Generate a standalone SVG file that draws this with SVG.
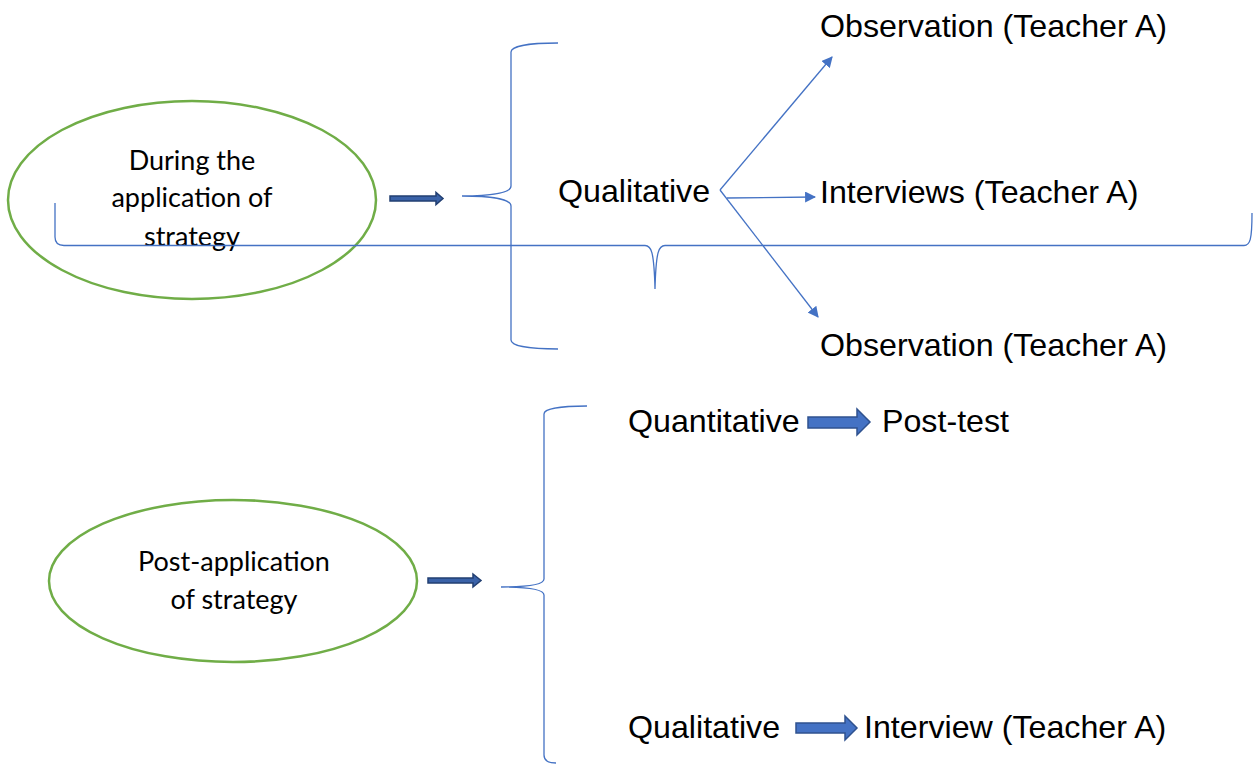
<svg xmlns="http://www.w3.org/2000/svg" width="1254" height="765" viewBox="0 0 1254 765">
  <style>
    .oval { fill: none; stroke: #70AD47; stroke-width: 2.5; }
    .brace { fill: none; stroke: #4472C4; stroke-width: 1.3; }
    .link { fill: none; stroke: #4472C4; stroke-width: 1.3; }
    .block { fill: #4472C4; stroke: #2F528F; stroke-width: 1.5; stroke-linejoin: miter; }
    .block-small { fill: #3A62A8; stroke: #223F72; stroke-width: 1.5; stroke-linejoin: miter; }
    .oval-text { font-family: Lato, "Liberation Sans", sans-serif; font-size: 27px; fill: #000; text-anchor: middle; }
    .label { font-family: "Liberation Sans", Arial, sans-serif; font-size: 32.2px; fill: #000; }
  </style>
  <defs>
    <marker id="tri" viewBox="0 0 10 10" refX="9" refY="5" markerWidth="11" markerHeight="11" markerUnits="userSpaceOnUse" orient="auto">
      <path d="M0,0 L10,5 L0,10 Z" fill="#4472C4"/>
    </marker>
  </defs>

  <!-- Phase 1: during the application -->
  <g id="node-during">
    <ellipse class="oval" cx="192" cy="200" rx="184" ry="99"/>
    <text class="oval-text" x="192" y="170">During the</text>
    <text class="oval-text" x="192" y="207">application of</text>
    <text class="oval-text" x="192" y="246">strategy</text>
  </g>

  <g id="node-qualitative-1">
    <text class="label" x="558" y="202">Qualitative</text>
  </g>
  <g id="node-observation-1">
    <text class="label" x="820" y="37">Observation (Teacher A)</text>
  </g>
  <g id="node-interviews">
    <text class="label" x="820" y="203">Interviews (Teacher A)</text>
  </g>
  <g id="node-observation-2">
    <text class="label" x="820" y="356">Observation (Teacher A)</text>
  </g>

  <!-- Phase 2: post-application -->
  <g id="node-post">
    <ellipse class="oval" cx="233" cy="581" rx="184" ry="81"/>
    <text class="oval-text" x="234" y="571">Post-application</text>
    <text class="oval-text" x="234" y="609">of strategy</text>
  </g>
  <g id="node-quantitative">
    <text class="label" x="628" y="432">Quantitative</text>
  </g>
  <g id="node-posttest">
    <text class="label" x="882" y="432">Post-test</text>
  </g>
  <g id="node-qualitative-2">
    <text class="label" x="628" y="738">Qualitative</text>
  </g>
  <g id="node-interview">
    <text class="label" x="864" y="738">Interview (Teacher A)</text>
  </g>

  <g id="connectors">
    <!-- braces -->
    <path class="brace" d="M558,43 C530,43 511,46 511,52 L511,186 C511,193 490,196 462,196 C490,196 511,199 511,206 L511,340 C511,346 530,349 558,349"/>
    <path class="brace" d="M55,203 L55,237 C55,243 58,245.5 64,245.5 L645,245.5 C651,245.5 654,250 655,289 C656,250 659,245.5 665,245.5 L1244,245.5 C1250,245.5 1252,240 1252,213"/>
    <path class="brace" d="M587,406 C560,406 544,409 544,414 L544,579 C544,585 525,587 501,587 C525,587 544,589 544,595 L544,755 C544,760 548,763 556,763"/>

    <!-- thin arrows from Qualitative -->
    <path class="link" d="M720,190 L832,57" marker-end="url(#tri)"/>
    <path class="link" d="M727,198 L815,197" marker-end="url(#tri)"/>
    <path class="link" d="M720,190 L818,317" marker-end="url(#tri)"/>

    <!-- block arrows -->
    <polygon class="block-small" points="390,196 436,196 436,192.5 443,198.5 436,204.5 436,201 390,201"/>
    <polygon class="block-small" points="428,578 473,578 473,574 481,580.5 473,587 473,583 428,583"/>
    <polygon class="block" points="808,417 857,417 857,409 870,422 857,435 857,428 808,428"/>
    <polygon class="block" points="796,723 845,723 845,716 857,728 845,740 845,733 796,733"/>
  </g>
</svg>
